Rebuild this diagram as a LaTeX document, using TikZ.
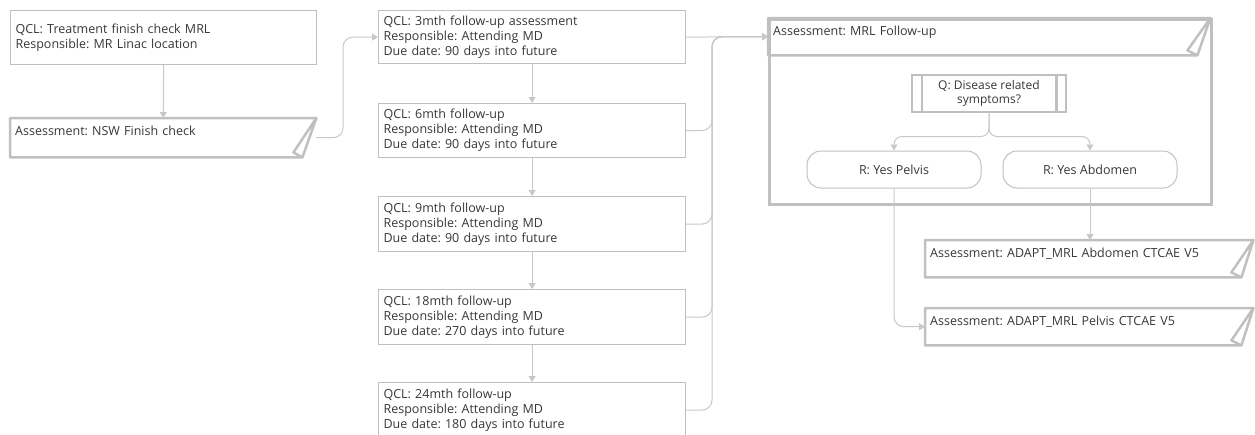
\documentclass[tikz,border=0pt]{standalone}
\usepackage{fontspec}
\setmainfont{Open Sans}
\usetikzlibrary{arrows.meta}
\definecolor{boxgray}{RGB}{192,192,192}
\definecolor{linkgray}{RGB}{200,200,200}
\definecolor{inkgray}{RGB}{55,55,55}
\newcommand{\notefold}[3]{\draw[boxgray,line width=2.5pt,line join=round]
  (#1.north west) -- (#1.north east) -- ([xshift=-#2pt]#1.south east) -- (#1.south west) -- cycle
  (#1.north east) -- ([xshift=-#2pt-#3pt,yshift=5pt]#1.south east) -- ([xshift=-#2pt]#1.south east);}

\begin{document}
\frenchspacing
\begin{tikzpicture}[x=1pt,y=-1pt,
    font=\fontsize{12.5}{15}\selectfont, text=inkgray,
    qcl/.style={draw=boxgray, line width=1.2pt, anchor=north west, inner sep=5pt,
      text width=#1, align=left, minimum height=54pt},
    note/.style={anchor=north west, inner sep=5pt, text width=#1, align=left,
      text height=12pt, text depth=17pt},
    pill/.style={draw=boxgray, line width=1pt, rounded corners=14pt,
      minimum width=174pt, minimum height=37pt, inner sep=2pt},
    conn/.style={linkgray, line width=1pt, -{Triangle[length=6pt,width=7pt]}}]
  \useasboundingbox (0,0) rectangle (1255,434);

  \node[qcl=296pt] (tfc) at (10,10) {QCL: Treatment finish check MRL\\Responsible: MR Linac location};
  \node[note=296pt] (nsw) at (10,118) {Assessment: NSW Finish check};
  \notefold{nsw}{14}{9}

  \node[qcl=297pt, minimum height=53pt] (q3) at (378,10) {QCL: 3mth follow-up assessment\\Responsible: Attending MD\\Due date: 90 days into future};
  \node[qcl=297pt] (q6) at (378,103) {QCL: 6mth follow-up\\Responsible: Attending MD\\Due date: 90 days into future};
  \node[qcl=297pt, minimum height=55pt] (q9) at (378,196) {QCL: 9mth follow-up\\Responsible: Attending MD\\Due date: 90 days into future};
  \node[qcl=297pt, minimum height=55pt] (q18) at (378,289) {QCL: 18mth follow-up\\Responsible: Attending MD\\Due date: 270 days into future};
  \node[qcl=297pt, minimum height=55pt] (q24) at (378,382) {QCL: 24mth follow-up\\Responsible: Attending MD\\Due date: 180 days into future};

  \node[draw=boxgray, line width=2.5pt, anchor=north west, minimum width=442pt,
    minimum height=185pt, inner sep=0] (mrl) at (768,18) {};
  \node[note=432pt, text depth=15pt] (mrlh) at (768,18) {Assessment: MRL Follow-up};
  \notefold{mrlh}{13}{10}

  \node[draw=boxgray, line width=2.5pt, minimum width=154pt, minimum height=37pt,
    inner sep=2pt, align=center, font=\fontsize{12}{14}\selectfont] (q) at (989,93.5) {Q: Disease related\\symptoms?};
  \draw[boxgray, line width=2.5pt] ([xshift=11pt]q.north west) -- ([xshift=11pt]q.south west)
    ([xshift=-11pt]q.north east) -- ([xshift=-11pt]q.south east);
  \node[pill] (pel) at (894,169.5) {R: Yes Pelvis};
  \node[pill] (abd) at (1090,169.5) {R: Yes Abdomen};

  \node[note=318pt, text depth=15pt] (aabd) at (925,240) {Assessment: ADAPT\_MRL Abdomen CTCAE V5};
  \notefold{aabd}{12}{10}
  \node[note=318pt, text depth=15pt] (apel) at (925,308) {Assessment: ADAPT\_MRL Pelvis CTCAE V5};
  \notefold{apel}{12}{10}

  \coordinate (jn) at (343,0);
  \coordinate (jm) at (712,0);
  \draw[conn] (tfc.south) -- (nsw.north);
  \draw[conn, rounded corners=10pt] (nsw.east) -| (jn |- q3.west) -- (q3.west);
  \foreach \a/\b in {q3/q6,q6/q9,q9/q18,q18/q24}
    \draw[conn] (\a.south) -- (\b.north);
  \draw[conn] (q3.east) -- (mrlh.west);
  \foreach \n in {q6,q9,q18,q24}
    \draw[conn, rounded corners=10pt] (\n.east) -| (jm |- mrlh.west) -- (mrlh.west);
  \draw[conn, rounded corners=8pt] (q.south) |- ([yshift=14pt]pel.north) -- (pel.north);
  \draw[conn, rounded corners=8pt] (q.south) |- ([yshift=14pt]abd.north) -- (abd.north);
  \draw[conn] (abd.south) -- (abd.south |- aabd.north);
  \draw[conn, rounded corners=10pt] (pel.south) |- (apel.west);
\end{tikzpicture}
\end{document}
